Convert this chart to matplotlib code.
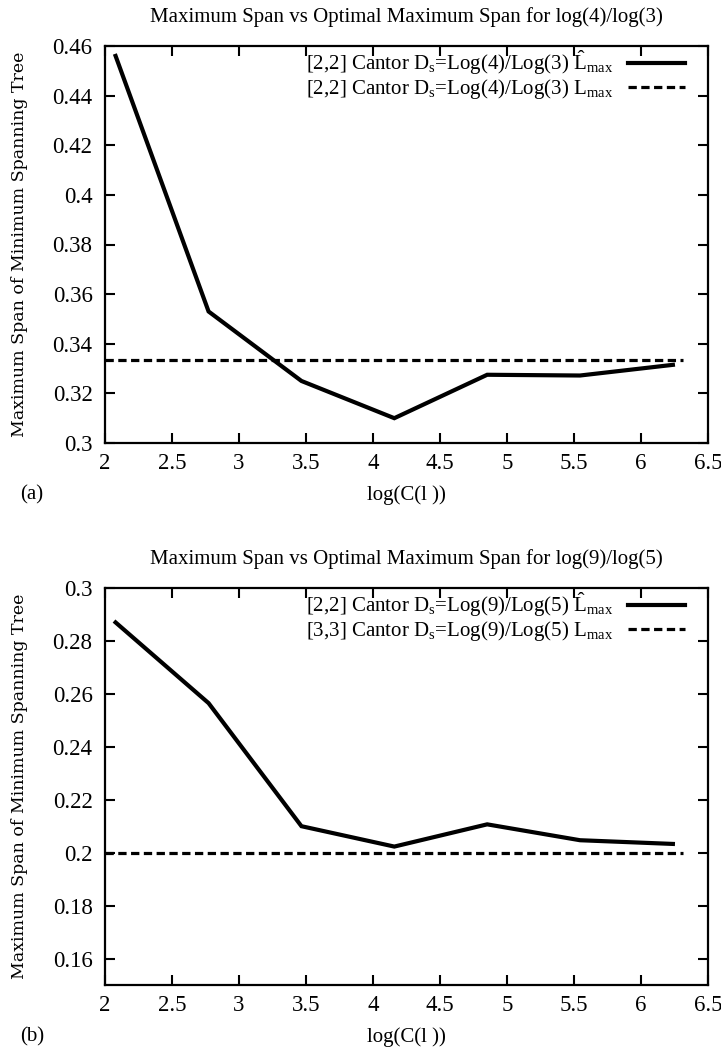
import matplotlib
matplotlib.use("Agg")
import matplotlib.pyplot as plt

plt.rcParams['font.family'] = ['Liberation Serif', 'DejaVu Serif']
plt.rcParams['mathtext.fontset'] = 'custom'
plt.rcParams['mathtext.rm'] = 'Liberation Serif'
plt.rcParams['mathtext.it'] = 'Liberation Serif'

# Data
x_logC = [2.079, 2.773, 3.466, 4.159, 4.852, 5.545, 6.238]
span_a = [0.456, 0.353, 0.325, 0.310, 0.3275, 0.3272, 0.3315]
span_b = [0.287, 0.2565, 0.210, 0.2023, 0.2107, 0.2047, 0.2033]
opt_x = [2.0, 6.31]
opt_a = [1/3, 1/3]
opt_b = [0.2, 0.2]

titles = ["Maximum Span vs Optimal Maximum Span for log(4)/log(3)",
          "Maximum Span vs Optimal Maximum Span for log(9)/log(5)"]
labels_a = [r"[2,2] Cantor D$_\mathrm{s}$=Log(4)/Log(3) $\hat{\mathrm{L}}_\mathrm{max}$",
            r"[2,2] Cantor D$_\mathrm{s}$=Log(4)/Log(3) $\mathrm{L}_\mathrm{max}$"]
labels_b = [r"[2,2] Cantor D$_\mathrm{s}$=Log(9)/Log(5) $\hat{\mathrm{L}}_\mathrm{max}$",
            r"[3,3] Cantor D$_\mathrm{s}$=Log(9)/Log(5) $\mathrm{L}_\mathrm{max}$"]
xticks = [2, 2.5, 3, 3.5, 4, 4.5, 5, 5.5, 6, 6.5]
yticks_a = [0.3, 0.32, 0.34, 0.36, 0.38, 0.4, 0.42, 0.44, 0.46]
yticks_b = [0.16, 0.18, 0.2, 0.22, 0.24, 0.26, 0.28, 0.3]
ylim_a = (0.3, 0.46)
ylim_b = (0.15, 0.3)
panel = ["(a)", "(b)"]

W, H = 721, 1051
fig = plt.figure(figsize=(W/100, H/100), dpi=100)

def ax_rect(l, t, r, b):
    return [l/W, 1 - b/H, (r-l)/W, (b-t)/H]

axes = [fig.add_axes(ax_rect(105, 46, 708, 443)),
        fig.add_axes(ax_rect(105, 588, 708, 985))]

data = [(span_a, opt_a, labels_a, yticks_a, ylim_a),
        (span_b, opt_b, labels_b, yticks_b, ylim_b)]

for i, (ax, (sp, op, lab, yt, yl)) in enumerate(zip(axes, data)):
    ax.plot(x_logC, sp, color='black', lw=3.0, solid_joinstyle='miter', label=lab[0])
    ax.plot(opt_x, op, color='black', lw=2.3, linestyle=(0, (2.6, 1.4)), label=lab[1])
    ax.set_xlim(2, 6.5)
    ax.set_ylim(*yl)
    ax.set_xticks(xticks)
    ax.set_xticklabels([f"{v:g}" for v in xticks])
    ax.set_yticks(yt)
    ax.set_yticklabels([f"{v:g}" for v in yt])
    ax.tick_params(direction='in', length=7, width=1.5, top=True, right=True,
                   labelsize=16.5)
    ax.tick_params(axis='x', pad=7)
    ax.tick_params(axis='y', pad=9)
    for s in ax.spines.values():
        s.set_linewidth(1.6)
    ax.set_title(titles[i], fontsize=15, pad=17)
    ax.set_xlabel("log(C(l ))", fontsize=15, labelpad=8)
    ax.set_ylabel("Maximum Span of Minimum Spanning Tree", fontsize=12.5,
                  family=['DejaVu Serif'])
    ax.yaxis.set_label_coords(-0.128, 0.5)
    leg = ax.legend(loc='upper right', frameon=False, markerfirst=False,
                    fontsize=15, handlelength=2.7, handletextpad=0.7,
                    labelspacing=0.0, borderaxespad=0.0, bbox_to_anchor=(0.975, 1.015))
    ax.text(-0.14, -0.13, panel[i], transform=ax.transAxes, fontsize=15,
            ha='left', va='center')

fig.savefig("out.png", dpi=100)
